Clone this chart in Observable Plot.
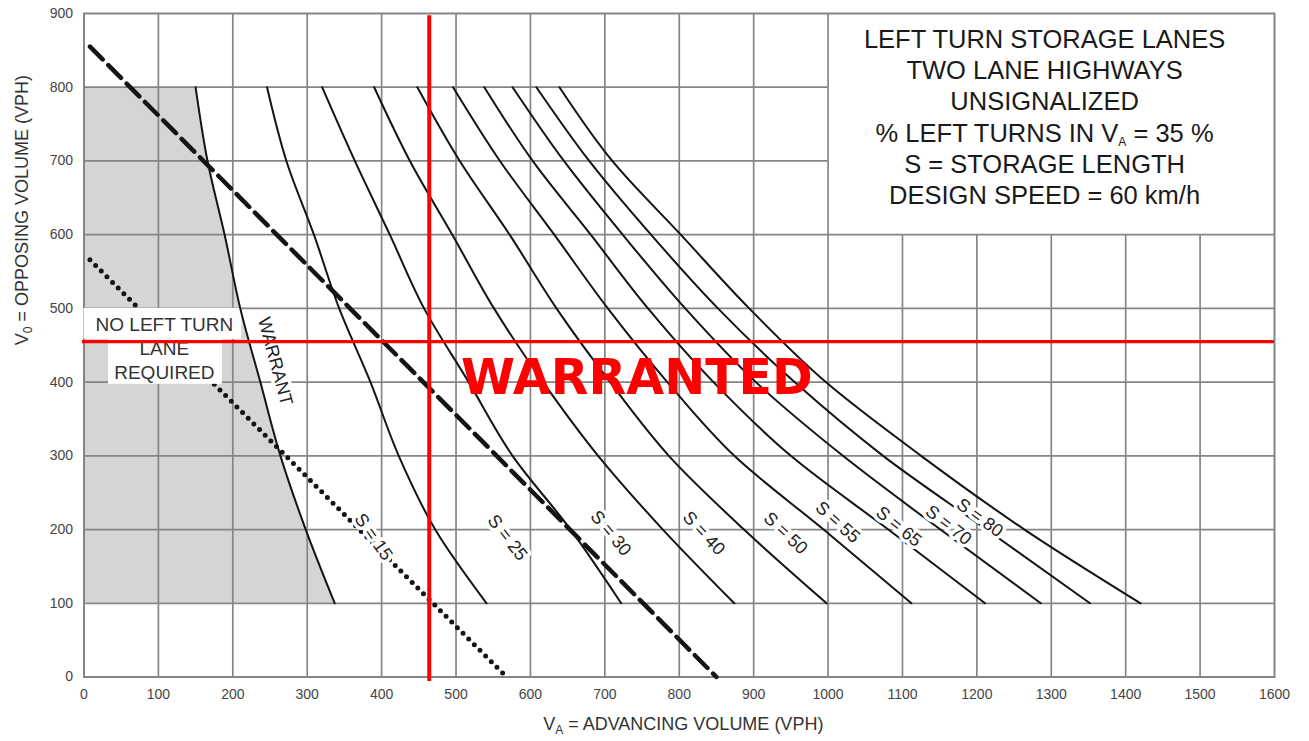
<!DOCTYPE html>
<html>
<head>
<meta charset="utf-8">
<script src="https://cdn.jsdelivr.net/npm/d3@7"></script>
<script src="https://cdn.jsdelivr.net/npm/@observablehq/plot@0.6"></script>
<style>
html, body { margin: 0; padding: 0; background: #fff; }
#chart svg { display: block; }
</style>
</head>
<body>
<div id="chart"></div>
<script>
// ---------- data ----------
// Opposing volume levels (V0, vph) at which each curve was read
const yLevels = [800, 700, 600, 500, 400, 300, 200, 100];

// Advancing volume (VA, vph) of each curve at those levels
const warrantX = [150, 166, 189, 210, 237, 264, 298, 337];
const curve1X  = [246, 272, 309, 343, 385, 423, 472, 541];
const curve2X  = [320, 364, 411, 457, 517, 576, 654, 722];
const curve3X  = [390, 438, 495, 551, 617, 691, 778, 874];
const curve4X  = [448, 505, 572, 635, 707, 786, 887, 998];
const curve5X  = [496, 559, 632, 704, 784, 874, 994, 1112];
const curve6X  = [538, 603, 681, 758, 846, 950, 1081, 1211];
const curve7X  = [576, 645, 724, 808, 903, 1020, 1151, 1286];
const curve8X  = [608, 679, 762, 852, 955, 1074, 1213, 1352];
const curve9X  = [639, 710, 802, 894, 997, 1125, 1264, 1420];

// straight dashed and dotted lines (end points)
const dashedX = [8, 850];
const dashedY = [855, 0];
const dottedX = [8, 568];
const dottedY = [566, 0];

// curve labels
const labelText  = ["WARRANT", "S = 15", "S = 25", "S = 30", "S = 40", "S = 50", "S = 55", "S = 65", "S = 70", "S = 80"];
const labelVA    = [257, 389, 569, 708, 833, 943, 1013, 1095, 1162, 1204];
const labelVO    = [428, 190, 189, 195, 195, 195, 210, 204, 206, 216];
const labelAngle = [75, 55, 52, 50, 47, 43, 42, 39, 38, 36];

// red reference lines
const redVA = 464;
const redVO = 455;

// axes
const xTicks = d3.range(0, 1601, 100);
const yTicks = d3.range(0, 901, 100);
const boxLeft = 1000;   // title box occupies VA >= 1000
const boxBottom = 600;  // and V0 >= 600

// "no left turn lane required" label background
const noTurnBoxX1 = [0, 33];
const noTurnBoxX2 = [212, 186];
const noTurnBoxY1 = [458, 397];
const noTurnBoxY2 = [500, 458];

const titleLines = [
  "LEFT TURN STORAGE LANES",
  "TWO LANE HIGHWAYS",
  "UNSIGNALIZED",
  "% LEFT TURNS IN V_A = 35 %",
  "S = STORAGE LENGTH",
  "DESIGN SPEED = 60 km/h"
];
const xLabel = "V_A = ADVANCING VOLUME (VPH)";
const yLabel = "V_0 = OPPOSING VOLUME (VPH)";

// ---------- tables built from the arrays ----------
const curveSets = [
  ["warrant", warrantX], ["c1", curve1X], ["c2", curve2X], ["c3", curve3X], ["c4", curve4X],
  ["c5", curve5X], ["c6", curve6X], ["c7", curve7X], ["c8", curve8X], ["c9", curve9X]
];
const curveRows = curveSets.flatMap(([name, xs]) => xs.map((x, i) => ({curve: name, x, y: yLevels[i]})));
const warrantRows = warrantX.map((x, i) => ({x, y: yLevels[i]}));
const dashedRows = dashedX.map((x, i) => ({x, y: dashedY[i]}));
const dottedRows = dottedX.map((x, i) => ({x, y: dottedY[i]}));
const labelRows = labelText.map((t, i) => ({text: t, x: labelVA[i], y: labelVO[i], angle: labelAngle[i]}));
const boxRows = noTurnBoxX1.map((x1, i) => ({x1, x2: noTurnBoxX2[i], y1: noTurnBoxY1[i], y2: noTurnBoxY2[i]}));

const gridColor = "#858585";
const ink = "#141414";
const font = "'Liberation Sans', Arial, Helvetica, sans-serif";

const chart = Plot.plot({
  width: 1309,
  height: 741,
  marginTop: 13,
  marginBottom: 64.5,
  marginLeft: 83.5,
  marginRight: 35,
  style: {fontFamily: font, fontSize: "14px", color: "#444", background: "#fff"},
  x: {domain: [0, 1600], ticks: xTicks, tickFormat: "d", tickSize: 0, tickPadding: 12, label: null},
  y: {domain: [0, 900], ticks: yTicks, tickFormat: "d", tickSize: 0, tickPadding: 11, label: null},
  marks: [
    // shaded "no left turn lane" zone
    Plot.areaX(warrantRows, {y: "y", x1: 0, x2: "x", fill: "#d5d5d5", curve: "monotone-y"}),
    // grid
    Plot.ruleX(xTicks.filter(d => d > 0 && d < 1600), {x: d => d, y1: 0, y2: d => d > boxLeft ? boxBottom : 900, stroke: gridColor, strokeWidth: 1.7}),
    Plot.ruleY(yTicks.filter(d => d > 0 && d < 900), {y: d => d, x1: 0, x2: d => d > boxBottom ? boxLeft : 1600, stroke: gridColor, strokeWidth: 1.7}),
    Plot.frame({stroke: gridColor, strokeWidth: 2}),
    // dotted line
    Plot.line(dottedRows, {x: "x", y: "y", stroke: ink, strokeWidth: 5, strokeDasharray: "0,8", strokeLinecap: "round"}),
    // label background boxes
    Plot.rect(boxRows, {x1: "x1", x2: "x2", y1: "y1", y2: "y2", fill: "#fff"}),
    Plot.text(["NO LEFT TURN\nLANE\nREQUIRED"], {x: 108, y: 447, fontSize: 19, lineHeight: 1.24, fill: "#333"}),
    // curves
    Plot.line(curveRows, {x: "x", y: "y", z: "curve", curve: "monotone-y", stroke: ink, strokeWidth: 2}),
    // dashed line
    Plot.line(dashedRows, {x: "x", y: "y", stroke: ink, strokeWidth: 4.5, strokeDasharray: "18,8"}),
    // curve labels
    Plot.text(labelRows, {x: "x", y: "y", text: "text", rotate: "angle", fontSize: 18, fill: "#222", stroke: "#fff", strokeWidth: 7, paintOrder: "stroke"}),
    // red lines
    Plot.ruleX([redVA], {x: d => d, y1: -6, y2: 897, stroke: "#ff0000", strokeWidth: 4}),
    Plot.ruleY([redVO], {y: d => d, x1: -2, x2: 1600, stroke: "#ff0000", strokeWidth: 3.2}),
    Plot.text(["WARRANTED"], {x: 743, y: 405, fontSize: 49, fontWeight: "bold", fontFamily: "'DejaVu Sans', sans-serif", fill: "#ff0000"}),
    // title block
    Plot.text([titleLines.join("\n")], {x: 1291, y: 761, fontSize: 25.5, lineHeight: 1.23, fill: "#1a1a1a"}),
    // axis labels
    Plot.text([xLabel], {frameAnchor: "bottom", dx: 4, dy: 53, fontSize: 18, fill: "#333"}),
    Plot.text([yLabel], {frameAnchor: "left", dx: -62, rotate: -90, fontSize: 18, fill: "#333"})
  ]
});

// turn "V_A" / "V_0" into V with a subscript
d3.select(chart).selectAll("text, tspan").each(function () {
  if (this.childElementCount > 0) return;
  const s = this.textContent;
  const m = s.match(/^(.*?V)_(\w)(.*)$/);
  if (!m) return;
  const fs = parseFloat(getComputedStyle(this).fontSize) || 16;
  const shift = Math.round(fs * 0.28);
  this.textContent = "";
  const sel = d3.select(this);
  sel.append("tspan").text(m[1]);
  sel.append("tspan").attr("dy", shift).attr("font-size", Math.round(fs * 0.72)).text(m[2]);
  sel.append("tspan").attr("dy", -shift).text(m[3]);
});

document.getElementById("chart").append(chart);
</script>
</body>
</html>
